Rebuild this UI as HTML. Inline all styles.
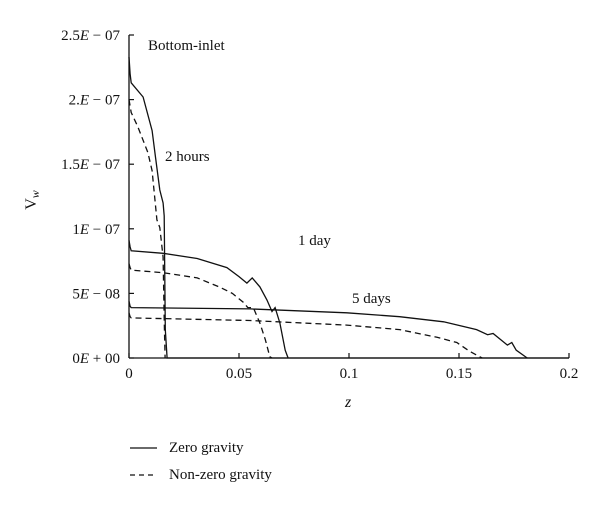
<!DOCTYPE html>
<html><head><meta charset="utf-8"><style>
body{margin:0;background:#fff}
svg text{font-family:"Liberation Serif",serif;fill:#111}
</style></head><body>
<svg width="600" height="505" viewBox="0 0 600 505">
<g id="axes"></g>
<g id="series"></g>
<text x="148" y="50" font-size="15">Bottom-inlet</text>
<text x="165" y="161" font-size="15">2 hours</text>
<text x="298" y="245" font-size="15">1 day</text>
<text x="352" y="303" font-size="15">5 days</text>
<text x="345" y="407" font-size="16" font-style="italic">z</text>
<text transform="translate(36,200) rotate(-90)" font-size="16" text-anchor="middle">V<tspan font-style="italic" font-size="12" dy="3">w</tspan></text>
<g>
<line x1="130" y1="448" x2="157" y2="448" stroke="#111" stroke-width="1.3"/>
<text x="169" y="452" font-size="15">Zero gravity</text>
<line x1="130" y1="475" x2="157" y2="475" stroke="#111" stroke-width="1.3" stroke-dasharray="5,4"/>
<text x="169" y="479" font-size="15">Non-zero gravity</text>
</g>
</svg>
<script>
const xTicks=[0,0.05,0.1,0.15,0.2];
const xTickLabels=["0","0.05","0.1","0.15","0.2"];
const yTicks=[0,5,10,15,20,25];
const yTickLabels=[["0","+ 00"],["5","− 08"],["1","− 07"],["1.5","− 07"],["2.","− 07"],["2.5","− 07"]];
// values in units of 1E-08
const z2hZero=[0,0.0005,0.001,0.0064,0.0105,0.012,0.014,0.0155,0.016,0.0165,0.0173,0.2];
const v2hZero=[23.3,22,21.3,20.2,17.6,15.6,13,12,11,2.2,0,0];
const z2hNon=[0,0.001,0.004,0.0086,0.0105,0.0127,0.014,0.0155,0.016,0.0164];
const v2hNon=[20,19,17.9,15.9,14.5,10.7,10.1,7.8,3,0];
const z1dZero=[0,0.0005,0.001,0.0155,0.031,0.0445,0.05,0.0536,0.056,0.0595,0.0627,0.065,0.0664,0.0686,0.071,0.0723];
const v1dZero=[9.1,8.6,8.3,8.1,7.7,7.0,6.3,5.8,6.2,5.5,4.5,3.6,3.9,2.7,0.6,0];
const z1dNon=[0,0.0005,0.001,0.0155,0.031,0.041,0.047,0.052,0.054,0.0565,0.0595,0.062,0.064,0.065];
const v1dNon=[7.3,7.0,6.8,6.6,6.2,5.5,5.0,4.3,3.9,3.9,2.7,1.4,0.1,0];
const z5dZero=[0,0.0005,0.001,0.055,0.099,0.123,0.143,0.158,0.163,0.1655,0.172,0.174,0.176,0.181];
const v5dZero=[4.4,4.0,3.9,3.8,3.5,3.2,2.8,2.2,1.8,1.9,1.0,1.2,0.6,0];
const z5dNon=[0,0.0005,0.001,0.055,0.099,0.123,0.14,0.149,0.155,0.1605];
const v5dNon=[3.5,3.2,3.1,2.9,2.55,2.2,1.6,1.2,0.5,0];

const X=z=>129+z*2200;
const Y=v=>358-v*12.92;
const NS="http://www.w3.org/2000/svg";
const axes=document.getElementById('axes');
const ser=document.getElementById('series');
function mk(tag,attrs,parent){const e=document.createElementNS(NS,tag);for(const k in attrs)e.setAttribute(k,attrs[k]);parent.appendChild(e);return e;}
let a=mk('line',{x1:X(0),y1:Y(0),x2:X(0.2),y2:Y(0),stroke:'#111','stroke-width':1.3},axes);


a=mk('line',{x1:X(0),y1:Y(0),x2:X(0),y2:Y(25),stroke:'#111','stroke-width':1.3},axes);


xTicks.forEach((t,i)=>{
 const l=mk('line',{x1:X(t),y1:Y(0),x2:X(t),y2:Y(0)-5,stroke:'#111','stroke-width':1.2},axes);
 
 
 const tx=mk('text',{x:X(t),y:Y(0)+20,'font-size':15,'text-anchor':'middle'},axes);
 tx.textContent=xTickLabels[i];
 
 
});
yTicks.forEach((t,i)=>{
 const l=mk('line',{x1:X(0),y1:Y(t),x2:X(0)+5,y2:Y(t),stroke:'#111','stroke-width':1.2},axes);
 
 
 const tx=mk('text',{x:X(0)-9,y:Y(t)+5,'font-size':15,'text-anchor':'end'},axes);
 tx.innerHTML=yTickLabels[i][0]+'<tspan font-style="italic">E</tspan> '+yTickLabels[i][1];
 
 
});
function line(zs,vs,dash,name){
 const d=zs.map((z,i)=>(i?'L':'M')+X(z).toFixed(1)+' '+Y(vs[i]).toFixed(1)).join(' ');
 const p=mk('path',{d:d,fill:'none',stroke:'#111','stroke-width':1.3},ser);
 if(dash)p.setAttribute('stroke-dasharray','6,4');
 
 
}
line(z2hZero,v2hZero,false,'line-2h-zero-gravity');
line(z2hNon,v2hNon,true,'line-2h-non-zero-gravity');
line(z1dZero,v1dZero,false,'line-1d-zero-gravity');
line(z1dNon,v1dNon,true,'line-1d-non-zero-gravity');
line(z5dZero,v5dZero,false,'line-5d-zero-gravity');
line(z5dNon,v5dNon,true,'line-5d-non-zero-gravity');
</script>
</body></html>
